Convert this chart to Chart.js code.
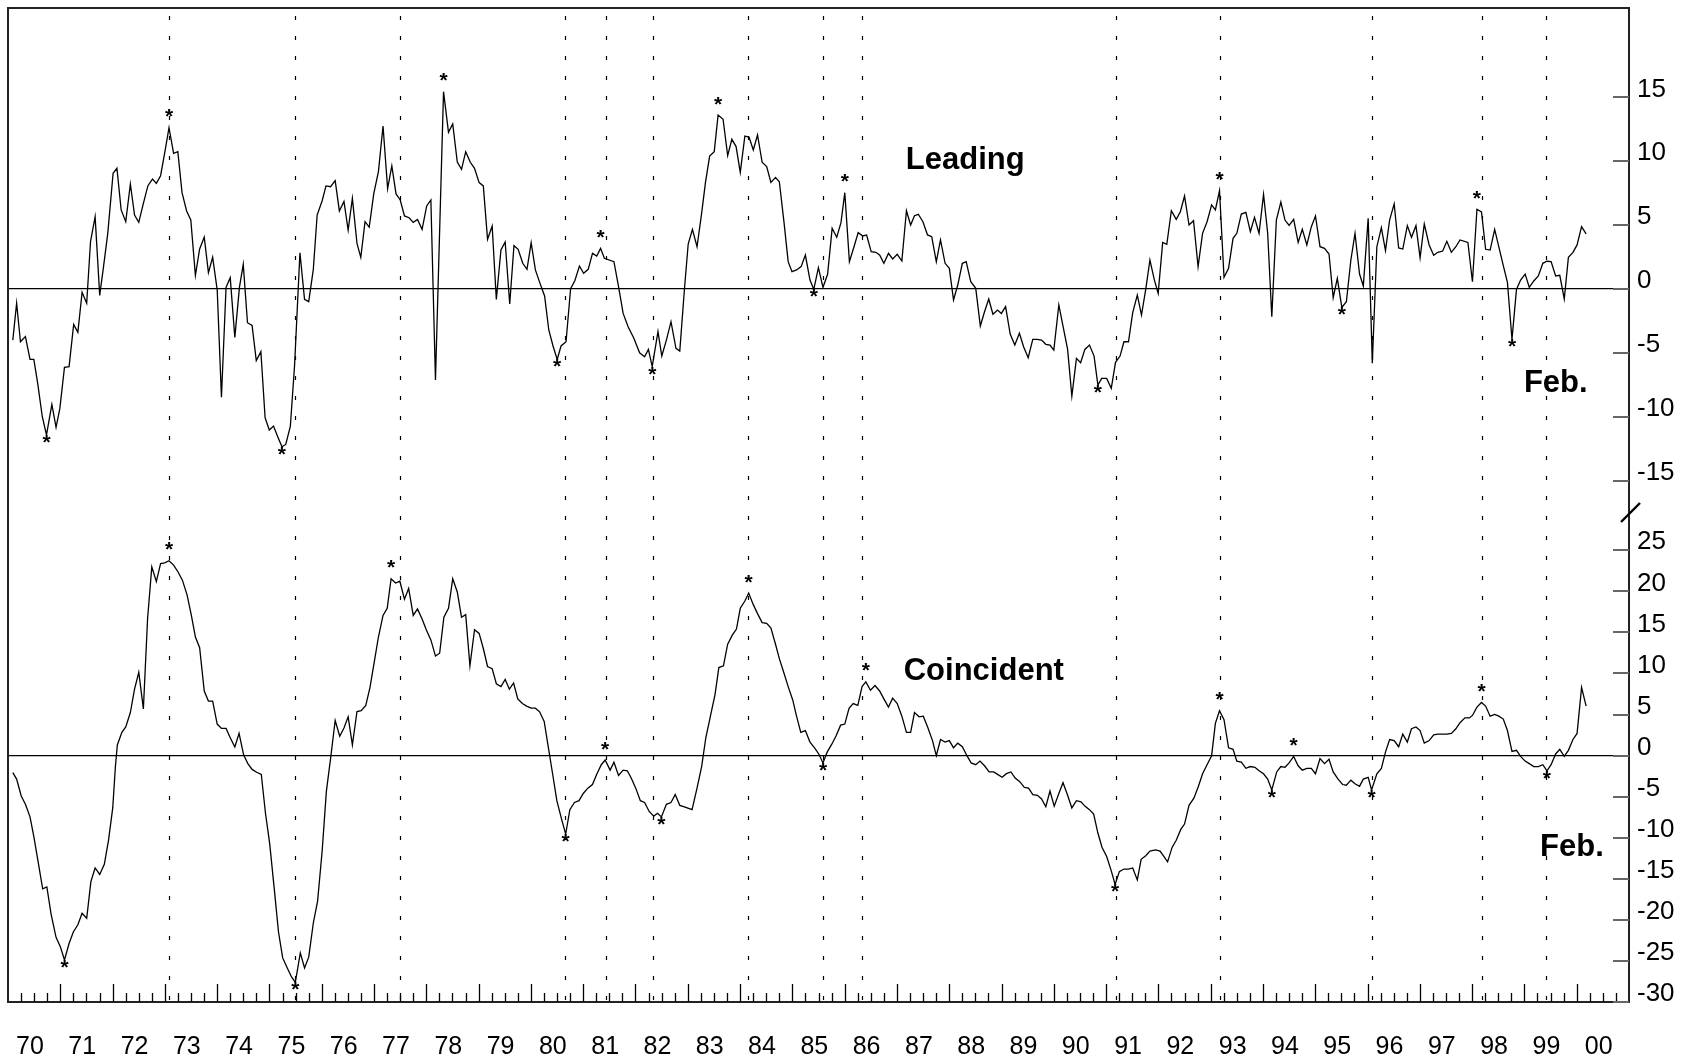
<!DOCTYPE html>
<html>
<head>
<meta charset="utf-8">
<title>Leading and Coincident growth rates</title>
<script src="https://cdn.jsdelivr.net/npm/chart.js@4.4.1/dist/chart.umd.min.js"></script>
<style>
  html, body { margin: 0; padding: 0; background: #fff; }
  #wrap { width: 1690px; height: 1064px; }
</style>
</head>
<body>
<div id="wrap"><canvas id="growth" width="1690" height="1064"></canvas></div>
<script>
// x axis: one label per year, 70 .. 00
const years = [1970,1971,1972,1973,1974,1975,1976,1977,1978,1979,1980,1981,1982,1983,1984,1985,
  1986,1987,1988,1989,1990,1991,1992,1993,1994,1995,1996,1997,1998,1999,2000];
const yearLabels = ['70','71','72','73','74','75','76','77','78','79','80','81','82','83','84','85',
  '86','87','88','89','90','91','92','93','94','95','96','97','98','99','00'];

// right axis tick labels for the two panels
const leadTicks = [-15, -10, -5, 0, 5, 10, 15];
const coinTicks = [-30, -25, -20, -15, -10, -5, 0, 5, 10, 15, 20, 25];

// reference cycle dates (dotted verticals)
const cycleDates = [1973.08, 1975.49, 1977.50, 1980.66, 1981.43, 1982.33, 1984.16,
  1985.58, 1986.34, 1991.18, 1993.17, 1996.09, 1998.18, 1999.42];

// Leading index growth rate
const leadDates = [
  1970.092,1970.165,1970.238,1970.333,1970.421,1970.494,1970.568,1970.656,1970.736,1970.839,1970.919,1970.992,
  1971.080,1971.168,1971.256,1971.336,1971.417,1971.505,1971.578,1971.666,1971.754,1971.827,1971.908,
  1972.010,1972.083,1972.164,1972.252,1972.340,1972.420,1972.501,1972.589,1972.676,1972.764,1972.837,1972.918,
  1973.006,1973.079,1973.167,1973.248,1973.328,1973.416,1973.496,1973.584,1973.665,1973.753,1973.833,1973.914,
  1974.001,1974.082,1974.170,1974.250,1974.338,1974.426,1974.499,1974.580,1974.668,1974.748,1974.836,1974.917,
  1974.997,1975.078,1975.158,1975.239,1975.312,1975.400,1975.481,1975.583,1975.671,1975.751,1975.839,1975.912,
  1976.008,1976.081,1976.169,1976.257,1976.337,1976.425,1976.505,1976.586,1976.674,1976.747,1976.828,1976.908,
  1976.996,1977.084,1977.172,1977.260,1977.340,1977.421,1977.501,1977.582,1977.670,1977.750,1977.831,1977.919,
  1978.007,1978.087,1978.175,1978.329,1978.424,1978.505,1978.592,1978.673,1978.753,1978.841,1978.922,
  1979.010,1979.090,1979.171,1979.259,1979.339,1979.427,1979.508,1979.595,1979.676,1979.756,1979.844,1979.925,
  1980.005,1980.086,1980.174,1980.262,1980.342,1980.423,1980.503,1980.576,1980.672,1980.759,1980.840,1980.928,
  1981.008,1981.096,1981.178,1981.259,1981.332,1981.405,1981.588,1981.676,1981.764,1981.859,1981.969,
  1982.079,1982.174,1982.247,1982.320,1982.430,1982.503,1982.591,1982.679,1982.774,1982.847,1982.935,
  1983.008,1983.089,1983.177,1983.265,1983.338,1983.418,1983.506,1983.580,1983.675,1983.763,1983.843,1983.924,
  1984.004,1984.092,1984.173,1984.253,1984.334,1984.422,1984.509,1984.590,1984.678,1984.751,1984.839,1984.920,
  1984.993,1985.080,1985.168,1985.249,1985.337,1985.410,1985.498,1985.586,1985.674,1985.761,1985.849,1985.930,
  1986.003,1986.091,1986.179,1986.259,1986.347,1986.420,1986.508,1986.596,1986.669,1986.750,1986.838,1986.918,
  1987.006,1987.094,1987.182,1987.262,1987.336,1987.409,1987.497,1987.585,1987.665,1987.753,1987.833,1987.921,
  1988.002,1988.082,1988.163,1988.251,1988.324,1988.412,1988.507,1988.595,1988.675,1988.756,1988.836,1988.924,
  1988.997,1989.078,1989.166,1989.254,1989.342,1989.422,1989.510,1989.598,1989.678,1989.766,1989.847,1989.927,
  1990.000,1990.096,1990.176,1990.264,1990.345,1990.433,1990.513,1990.594,1990.682,1990.770,1990.843,1990.916,
  1991.011,1991.099,1991.180,1991.267,1991.341,1991.428,1991.509,1991.597,1991.677,1991.758,1991.838,1991.924,
  1991.996,1992.082,1992.161,1992.248,1992.341,1992.420,1992.500,1992.586,1992.672,1992.759,1992.845,1992.931,
  1993.018,1993.090,1993.169,1993.255,1993.342,1993.428,1993.500,1993.586,1993.673,1993.759,1993.838,1993.925,
  1994.011,1994.090,1994.169,1994.256,1994.342,1994.421,1994.500,1994.587,1994.673,1994.752,1994.839,1994.925,
  1995.004,1995.091,1995.177,1995.263,1995.343,1995.422,1995.508,1995.595,1995.681,1995.760,1995.847,1995.919,
  1996.012,1996.091,1996.178,1996.264,1996.343,1996.422,1996.509,1996.595,1996.674,1996.761,1996.840,1996.926,
  1997.005,1997.085,1997.178,1997.265,1997.344,1997.437,1997.516,1997.603,1997.689,1997.768,1997.919,
  1998.006,1998.092,1998.179,1998.258,1998.344,1998.431,1998.596,1998.675,1998.762,1998.848,1998.927,
  1999.014,1999.093,1999.179,1999.266,1999.352,1999.431,1999.510,1999.597,1999.676,1999.762,1999.841,1999.928,
  2000.007,2000.093,2000.180
];
const leadValues = [
  -4.00,-1.12,-4.13,-3.73,-5.51,-5.51,-7.39,-10.00,-11.43,-9.03,-10.83,-9.35,
  -6.13,-6.08,-2.77,-3.39,-0.26,-1.12,3.70,5.66,-0.50,1.75,4.36,
  9.06,9.45,6.19,5.27,8.22,5.79,5.22,6.71,8.09,8.61,8.27,8.87,
  10.88,12.63,10.62,10.75,7.54,6.11,5.40,1.07,3.13,4.05,1.28,2.48,
  -0.08,-8.48,0.13,0.89,-3.79,0.13,1.93,-2.64,-2.85,-5.61,-4.91,-10.08,
  -11.04,-10.73,-11.56,-12.35,-12.17,-10.73,-5.95,2.84,-0.81,-0.99,1.54,5.79,
  6.91,8.07,8.01,8.48,6.11,6.86,4.62,7.10,3.57,2.48,5.27,4.85,
  7.49,9.19,12.76,7.86,9.63,7.44,6.97,5.72,5.58,5.22,5.45,4.67,
  6.50,6.97,-7.13,15.45,12.27,12.92,9.94,9.37,10.75,9.92,9.45,
  8.33,8.07,3.89,4.93,-0.81,3.05,3.68,-1.18,3.39,3.11,2.01,1.54,
  3.63,1.49,0.44,-0.55,-3.21,-4.46,-5.51,-4.46,-4.13,0.02,0.65,1.80,
  1.23,1.54,2.79,2.58,3.18,2.40,2.14,0.18,-1.91,-2.95,-3.86,
  -4.99,-5.30,-4.73,-6.08,-3.34,-5.25,-4.00,-2.56,-4.65,-4.86,-0.08,
  3.52,4.67,3.31,5.92,8.33,10.41,10.75,13.62,13.29,10.44,11.72,11.15,
  9.13,11.98,11.88,10.88,12.06,9.92,9.58,8.35,8.74,8.40,5.27,2.14,
  1.36,1.49,1.75,2.66,0.70,-0.03,1.67,0.13,1.15,4.75,4.05,5.19,
  7.54,2.14,3.31,4.41,4.15,4.23,2.92,2.87,2.66,2.01,2.79,2.35,
  2.71,2.19,6.13,5.01,5.74,5.85,5.27,4.23,4.10,2.14,3.84,2.01,
  1.62,-0.86,0.31,2.01,2.14,0.57,0.05,-2.90,-1.78,-0.78,-1.98,-1.65,
  -1.91,-1.38,-3.53,-4.39,-3.47,-4.52,-5.38,-3.94,-3.94,-4.00,-4.33,-4.39,
  -4.78,-1.25,-2.90,-4.73,-8.38,-5.43,-5.77,-4.73,-4.39,-5.25,-7.52,-7.00,
  -7.00,-7.78,-5.74,-5.25,-4.13,-4.13,-1.85,-0.47,-2.04,-0.03,2.27,0.70,
  -0.34,3.65,3.50,6.13,5.45,6.05,7.28,5.01,5.35,1.75,4.36,5.27,
  6.58,6.19,7.70,0.91,1.62,3.97,4.36,5.87,6.00,4.49,5.61,4.36,
  7.41,4.36,-2.17,5.40,6.81,5.40,4.98,5.45,3.65,4.67,3.45,4.88,
  5.72,3.31,3.18,2.74,-0.68,0.83,-1.44,-1.00,2.27,4.36,1.17,0.23,
  5.53,-5.82,3.31,4.80,3.00,5.40,6.66,3.21,3.13,4.96,4.05,4.96,
  2.45,5.09,3.45,2.64,2.87,2.97,3.73,2.87,3.31,3.84,3.65,
  0.57,6.24,6.03,3.11,3.05,4.67,1.83,0.52,-3.94,-0.03,0.70,
  1.17,0.13,0.63,1.02,2.01,2.17,2.14,1.02,1.07,-0.78,2.48,2.87,
  3.45,4.88,4.31
];

// Coincident index growth rate
const coinDates = [
  1970.092,1970.165,1970.253,1970.333,1970.421,1970.494,1970.582,1970.663,1970.743,1970.824,1970.919,1970.999,
  1971.080,1971.168,1971.249,1971.336,1971.417,1971.505,1971.585,1971.666,1971.754,1971.842,1971.922,
  1972.003,1972.054,1972.091,1972.178,1972.252,1972.340,1972.420,1972.501,1972.589,1972.669,1972.750,1972.837,1972.918,
  1972.998,1973.079,1973.167,1973.255,1973.335,1973.423,1973.504,1973.584,1973.665,1973.753,1973.833,1973.914,
  1974.001,1974.082,1974.170,1974.250,1974.338,1974.419,1974.507,1974.587,1974.668,1974.756,1974.844,1974.924,
  1975.005,1975.092,1975.173,1975.253,1975.341,1975.422,1975.495,1975.590,1975.671,1975.751,1975.839,1975.920,
  1976.008,1976.088,1976.176,1976.257,1976.344,1976.425,1976.505,1976.586,1976.674,1976.755,1976.842,1976.923,
  1977.004,1977.084,1977.172,1977.252,1977.326,1977.413,1977.494,1977.582,1977.662,1977.750,1977.831,1977.919,
  1977.999,1978.087,1978.175,1978.255,1978.336,1978.424,1978.505,1978.592,1978.673,1978.753,1978.834,1978.922,
  1979.010,1979.090,1979.171,1979.259,1979.339,1979.427,1979.508,1979.588,1979.669,1979.749,1979.837,1979.917,
  1980.005,1980.086,1980.166,1980.254,1980.335,1980.415,1980.496,1980.584,1980.665,1980.745,1980.833,1980.920,
  1981.001,1981.089,1981.177,1981.257,1981.346,1981.420,1981.515,1981.588,1981.676,1981.764,1981.844,1981.918,
  1982.005,1982.093,1982.174,1982.262,1982.349,1982.423,1982.496,1982.591,1982.679,1982.760,1982.847,1982.935,
  1983.082,1983.177,1983.265,1983.345,1983.433,1983.521,1983.594,1983.682,1983.763,1983.851,1983.931,
  1984.004,1984.092,1984.165,1984.253,1984.334,1984.422,1984.509,1984.590,1984.678,1984.751,1984.839,1984.920,
  1985.007,1985.080,1985.161,1985.249,1985.337,1985.425,1985.505,1985.586,1985.666,1985.754,1985.835,1985.923,
  1986.003,1986.084,1986.164,1986.252,1986.333,1986.406,1986.494,1986.581,1986.669,1986.750,1986.838,1986.918,
  1987.006,1987.094,1987.182,1987.262,1987.336,1987.423,1987.504,1987.592,1987.680,1987.753,1987.833,1987.921,
  1988.002,1988.082,1988.163,1988.251,1988.339,1988.419,1988.507,1988.588,1988.675,1988.763,1988.851,1988.924,
  1989.012,1989.093,1989.180,1989.261,1989.349,1989.437,1989.517,1989.598,1989.686,1989.766,1989.847,1989.927,
  1990.008,1990.096,1990.176,1990.264,1990.345,1990.433,1990.520,1990.594,1990.682,1990.762,1990.843,1990.923,
  1991.011,1991.099,1991.172,1991.253,1991.341,1991.428,1991.509,1991.597,1991.670,1991.758,1991.838,1991.945,
  1992.032,1992.104,1992.176,1992.262,1992.341,1992.428,1992.500,1992.586,1992.679,1992.766,1992.845,1992.931,
  1993.018,1993.090,1993.169,1993.255,1993.342,1993.428,1993.500,1993.586,1993.673,1993.759,1993.846,1993.925,
  1994.011,1994.090,1994.169,1994.263,1994.342,1994.421,1994.500,1994.587,1994.673,1994.752,1994.839,1994.925,
  1995.004,1995.091,1995.177,1995.263,1995.343,1995.436,1995.523,1995.595,1995.681,1995.760,1995.847,1995.919,
  1996.012,1996.077,1996.178,1996.264,1996.343,1996.422,1996.509,1996.595,1996.674,1996.761,1996.840,1996.926,
  1997.005,1997.085,1997.178,1997.265,1997.344,1997.437,1997.516,1997.603,1997.689,1997.768,1997.862,1997.948,
  1998.006,1998.092,1998.179,1998.258,1998.344,1998.431,1998.510,1998.596,1998.675,1998.762,1998.848,1998.927,
  1999.014,1999.093,1999.179,1999.266,1999.352,1999.431,1999.510,1999.597,1999.676,1999.762,1999.841,1999.928,
  2000.007,2000.093,2000.180
];
const coinValues = [
  -2.07,-2.86,-4.92,-5.93,-7.46,-9.87,-13.16,-16.22,-16.00,-19.29,-22.13,-23.23,
  -24.89,-22.88,-21.48,-20.60,-19.20,-19.81,-15.34,-13.68,-14.47,-13.24,-10.31,
  -6.37,-1.33,1.30,2.83,3.49,5.24,8.09,10.15,5.68,16.63,22.98,21.19,23.38,
  23.46,23.73,23.20,22.33,21.36,19.61,17.16,14.44,13.13,7.87,6.64,6.64,
  3.84,3.31,3.31,2.17,1.04,2.70,0.07,-0.98,-1.68,-2.03,-2.29,-7.02,
  -10.75,-16.22,-21.48,-24.63,-25.86,-26.95,-27.61,-24.02,-25.86,-24.54,-20.38,-17.75,
  -11.62,-4.39,-0.01,4.28,2.35,3.36,4.72,1.30,5.37,5.46,6.12,8.31,
  11.37,14.44,17.07,17.94,21.53,21.01,21.23,19.04,20.35,17.07,17.86,16.63,
  15.32,14.09,12.12,12.47,16.85,17.94,21.53,19.92,16.85,17.16,10.94,15.32,
  14.88,13.04,10.85,10.59,8.75,8.40,9.27,8.09,8.84,6.91,6.34,6.03,
  5.77,5.77,5.33,4.15,0.95,-2.21,-5.49,-7.68,-9.56,-6.58,-5.71,-5.49,
  -4.61,-3.96,-3.52,-2.29,-1.11,-0.54,-1.77,-0.80,-2.42,-1.77,-1.85,-2.73,
  -3.96,-5.49,-5.71,-6.80,-7.37,-7.02,-7.46,-5.93,-5.71,-4.74,-6.06,-6.23,
  -6.58,-3.96,-1.33,2.17,4.80,7.43,10.72,10.94,13.56,14.66,15.40,
  17.94,18.82,19.79,18.38,17.29,16.19,16.10,15.53,13.56,11.81,10.06,8.40,
  6.78,4.80,2.83,3.05,1.65,0.95,0.20,-0.89,0.42,1.39,2.39,3.71,
  3.84,5.77,6.34,6.12,8.40,8.97,7.96,8.53,7.87,6.91,5.90,6.99,
  6.34,4.80,2.83,2.83,5.24,4.72,4.80,3.40,1.83,-0.01,1.96,1.65,
  1.83,0.95,1.52,1.08,-0.01,-0.89,-1.11,-0.67,-1.24,-1.99,-1.99,-2.29,
  -2.64,-2.20,-1.99,-2.73,-3.17,-3.87,-3.96,-4.74,-4.83,-5.27,-6.23,-4.31,
  -6.15,-4.61,-3.30,-4.83,-6.37,-5.49,-5.62,-6.15,-6.58,-7.11,-9.43,-11.18,
  -12.28,-14.03,-15.69,-14.12,-13.81,-13.81,-13.68,-15.13,-12.63,-12.19,-11.62,-11.49,
  -11.62,-12.28,-12.94,-11.18,-10.31,-8.99,-8.34,-6.06,-5.18,-3.74,-2.21,-1.11,
  -0.01,3.93,5.46,4.37,0.95,0.77,-0.67,-0.80,-1.55,-1.33,-1.42,-1.85,
  -2.21,-2.86,-4.18,-1.99,-1.33,-1.42,-0.89,-0.10,-1.24,-1.77,-1.55,-1.55,
  -2.21,-0.37,-0.98,-0.45,-1.99,-2.86,-3.52,-3.61,-2.99,-3.43,-3.74,-2.86,
  -2.64,-4.18,-2.21,-1.55,0.42,1.96,1.83,1.08,2.61,1.65,3.27,3.49,
  3.05,1.52,1.83,2.53,2.61,2.61,2.61,2.70,3.27,4.01,4.59,4.59,
  4.89,5.90,6.47,6.03,4.80,5.02,4.80,4.45,3.05,0.51,0.64,-0.10,
  -0.67,-0.98,-1.33,-1.33,-1.11,-1.85,-1.11,0.20,0.77,-0.10,0.64,1.96,
  2.70,8.31,6.03
];

// turning points marked with an asterisk (P = peak, T = trough)
const leadTurnDates  = [1970.736,1973.079,1975.239,1978.329,1980.503,1981.332,1982.320,1983.580,1985.410,1986.003,1990.843,1993.169,1995.508,1998.092,1998.762];
const leadTurnValues = [-11.43,12.63,-12.35,15.45,-5.51,3.18,-6.08,13.62,-0.03,7.54,-7.52,7.70,-1.44,6.24,-3.94];
const leadTurnKinds  = ['T','P','T','P','T','P','T','P','T','P','T','P','T','P','T'];

const coinTurnDates  = [1971.080,1973.079,1975.495,1977.326,1980.665,1981.420,1982.496,1984.165,1985.586,1986.406,1991.172,1993.169,1994.169,1994.587,1996.077,1998.179,1999.431];
const coinTurnValues = [-24.89,23.73,-27.61,21.53,-9.56,-0.54,-7.46,19.79,-0.89,8.97,-15.69,5.46,-4.18,-0.10,-4.18,6.47,-1.85];
const coinTurnKinds  = ['T','P','T','P','T','P','T','P','T','P','T','P','T','P','T','P','T'];

const FONT = '"Liberation Sans", Arial, Helvetica, sans-serif';

// text notes, placed in data space of their panel
const notes = [
  { text: 'Leading', axis: 'yL', at: 1987.17, val: 9.40 },
  { text: 'Feb.', axis: 'yL', at: 1998.99, val: -8.07 },
  { text: 'Coincident', axis: 'yC', at: 1987.13, val: 9.17 },
  { text: 'Feb.', axis: 'yC', at: 1999.30, val: -12.26 }
];

function toPoints(xs, ys) {
  return xs.map((x, i) => ({ x: x, y: ys[i] }));
}

function drawStar(ctx, px, py) {
  const m = ctx.measureText('*');
  ctx.fillText('*', px, py + (m.actualBoundingBoxAscent - m.actualBoundingBoxDescent) / 2);
}

const decor = {
  id: 'decor',
  beforeDatasetsDraw(chart) {
    const { ctx, chartArea: a, scales: { x } } = chart;
    ctx.save();
    ctx.strokeStyle = '#000';
    ctx.lineWidth = 1.2;
    ctx.setLineDash([4, 16]);
    cycleDates.forEach(d => {
      const px = Math.round(x.getPixelForValue(d)) + 0.5;
      ctx.beginPath();
      ctx.moveTo(px, a.top + 8);
      ctx.lineTo(px, a.bottom);
      ctx.stroke();
    });
    ctx.restore();
  },
  afterDatasetsDraw(chart) {
    const { ctx, chartArea: a, scales: { x, yL, yC } } = chart;
    ctx.save();

    // frame
    ctx.strokeStyle = '#222';
    ctx.lineWidth = 2;
    ctx.strokeRect(a.left, a.top, a.right - a.left, a.bottom - a.top);

    // quarter ticks on the time axis, pointing up
    ctx.lineWidth = 1.3;
    ctx.strokeStyle = '#000';
    for (let q = 1; q < 31 * 4; q++) {
      const px = Math.round(x.getPixelForValue(1970 + q / 4)) + 0.5;
      const len = q % 4 === 0 ? 18 : 9;
      ctx.beginPath();
      ctx.moveTo(px, a.bottom);
      ctx.lineTo(px, a.bottom - len);
      ctx.stroke();
    }

    // value ticks on the right axis, pointing in
    ctx.strokeStyle = '#666';
    ctx.lineWidth = 2;
    [[yL, leadTicks], [yC, coinTicks]].forEach(([s, ticks]) => {
      ticks.forEach(v => {
        const py = Math.round(s.getPixelForValue(v));
        ctx.beginPath();
        ctx.moveTo(a.right - 16, py);
        ctx.lineTo(a.right, py);
        ctx.stroke();
      });
    });

    // axis break between the panels
    const yb = yL.bottom;
    ctx.strokeStyle = '#000';
    ctx.lineWidth = 2.4;
    ctx.beginPath();
    ctx.moveTo(a.right - 8, yb + 10);
    ctx.lineTo(a.right + 11, yb - 9);
    ctx.stroke();

    // asterisks at turning points
    ctx.fillStyle = '#000';
    ctx.font = 'bold 21px ' + FONT;
    ctx.textAlign = 'center';
    ctx.textBaseline = 'alphabetic';
    [[yL, leadTurnDates, leadTurnValues, leadTurnKinds],
     [yC, coinTurnDates, coinTurnValues, coinTurnKinds]].forEach(([s, ds, vs, ks]) => {
      ds.forEach((d, i) => {
        const px = x.getPixelForValue(d);
        const py = s.getPixelForValue(vs[i]);
        drawStar(ctx, px, ks[i] === 'P' ? py - 14.5 : py + 4);
      });
    });

    // panel notes
    ctx.font = 'bold 31px ' + FONT;
    ctx.textAlign = 'left';
    notes.forEach(n => {
      const s = n.axis === 'yL' ? yL : yC;
      ctx.fillText(n.text, x.getPixelForValue(n.at), s.getPixelForValue(n.val));
    });

    ctx.restore();
  }
};

const zeroLine = c => (c.tick && c.tick.value === 0 ? '#000' : 'rgba(0,0,0,0)');

const chart = new Chart(document.getElementById('growth'), {
  type: 'line',
  data: {
    datasets: [
      {
        label: 'Leading',
        data: toPoints(leadDates, leadValues),
        yAxisID: 'yL',
        borderColor: '#000',
        borderWidth: 1.3,
        pointRadius: 0,
        tension: 0,
        fill: false
      },
      {
        label: 'Coincident',
        data: toPoints(coinDates, coinValues),
        yAxisID: 'yC',
        borderColor: '#000',
        borderWidth: 1.3,
        pointRadius: 0,
        tension: 0,
        fill: false
      }
    ]
  },
  options: {
    responsive: false,
    animation: false,
    devicePixelRatio: 1,
    layout: { padding: { left: 8, top: 8, right: 0, bottom: 0 } },
    plugins: { legend: { display: false }, tooltip: { enabled: false } },
    scales: {
      x: {
        type: 'linear',
        min: 1970,
        max: 2001,
        bounds: 'data',
        grid: { display: false, drawTicks: false },
        border: { display: false },
        afterBuildTicks: s => { s.ticks = years.map(y => ({ value: y + 0.42 })); },
        afterFit: s => { s.height = 62; s.paddingLeft = 0; s.paddingRight = 0; },
        ticks: {
          autoSkip: false,
          maxRotation: 0,
          padding: 30,
          color: '#000',
          font: { family: FONT, size: 25 },
          callback: (v, i) => yearLabels[i]
        }
      },
      yL: {
        type: 'linear',
        position: 'right',
        stack: 'panels',
        stackWeight: 504,
        weight: 0,
        min: -17.46,
        max: 22.0,
        bounds: 'data',
        grid: { drawTicks: false, color: zeroLine, lineWidth: 1.3 },
        border: { display: false },
        afterBuildTicks: s => { s.ticks = leadTicks.map(v => ({ value: v })); },
        afterFit: s => { s.width = 61; s.paddingTop = 0; s.paddingBottom = 0; },
        ticks: {
          autoSkip: false,
          padding: 8,
          labelOffset: -8,
          color: '#000',
          font: { family: FONT, size: 26 },
          callback: v => String(v)
        }
      },
      yC: {
        type: 'linear',
        position: 'right',
        stack: 'panels',
        stackWeight: 490,
        weight: 1,
        min: -30,
        max: 29.66,
        bounds: 'data',
        grid: { drawTicks: false, color: zeroLine, lineWidth: 1.3 },
        border: { display: false },
        afterBuildTicks: s => { s.ticks = coinTicks.map(v => ({ value: v })); },
        afterFit: s => { s.width = 61; s.paddingTop = 0; s.paddingBottom = 0; },
        ticks: {
          autoSkip: false,
          padding: 8,
          labelOffset: -8,
          color: '#000',
          font: { family: FONT, size: 26 },
          callback: v => String(v)
        }
      }
    }
  },
  plugins: [decor]
});
</script>
</body>
</html>
